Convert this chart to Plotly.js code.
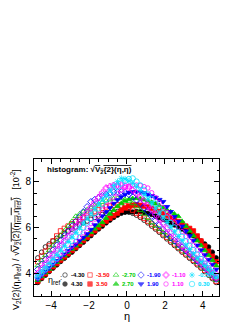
<!DOCTYPE html>
<html><head><meta charset="utf-8">
<script src="https://cdn.plot.ly/plotly-3.0.1.min.js"></script>
<style>html,body{margin:0;padding:0;background:#fff;}#c{width:249px;height:323px;}</style>
</head><body><div id="c"></div>
<script>
// eta bin centres
const eta = [-4.7,-4.5,-4.3,-4.1,-3.9,-3.7,-3.5,-3.3,-3.1,-2.9,-2.7,-2.5,-2.3,-2.1,-1.9,-1.7,-1.5,-1.3,-1.1,-0.9,-0.7,-0.5,-0.3,-0.1,
             0.1,0.3,0.5,0.7,0.9,1.1,1.3,1.5,1.7,1.9,2.1,2.3,2.5,2.7,2.9,3.1,3.3,3.5,3.7,3.9,4.1,4.3,4.5,4.7];
// series values (units of 10^-2), one per eta_ref
const yRefM430 = [4.67,4.92,5.15,5.28,5.41,5.53,5.64,5.74,5.84,5.93,6.02,6.11,6.20,6.28,6.36,6.44,6.50,6.57,6.62,6.66,6.69,6.70,6.68,6.69,6.67,6.62,6.54,6.44,6.32,6.20,6.06,5.93,5.79,5.64,5.50,5.35,5.21,5.07,4.92,4.79,4.65,4.51,4.36,4.22,4.07,3.91,3.76,3.59];
const yRefP430 = [3.59,3.76,3.91,4.07,4.22,4.36,4.51,4.65,4.79,4.92,5.07,5.21,5.35,5.50,5.64,5.79,5.93,6.06,6.20,6.32,6.44,6.54,6.62,6.67,6.69,6.68,6.70,6.69,6.66,6.62,6.57,6.50,6.44,6.36,6.28,6.20,6.11,6.02,5.93,5.84,5.74,5.64,5.53,5.41,5.28,5.15,4.92,4.67];
const yRefM350 = [4.50,4.74,4.96,5.19,5.41,5.63,5.85,5.96,6.06,6.16,6.26,6.35,6.44,6.53,6.62,6.70,6.77,6.84,6.90,6.94,6.97,6.99,6.98,6.94,6.86,6.76,6.63,6.52,6.41,6.28,6.15,6.00,5.86,5.72,5.57,5.43,5.28,5.13,4.99,4.85,4.71,4.57,4.42,4.28,4.12,3.97,3.81,3.64];
const yRefP350 = [3.64,3.81,3.97,4.12,4.28,4.42,4.57,4.71,4.85,4.99,5.13,5.28,5.43,5.57,5.72,5.86,6.00,6.15,6.28,6.41,6.52,6.63,6.76,6.86,6.94,6.98,6.99,6.97,6.94,6.90,6.84,6.77,6.70,6.62,6.53,6.44,6.35,6.26,6.16,6.06,5.96,5.85,5.63,5.41,5.19,4.96,4.74,4.50];
const yRefM270 = [4.33,4.56,4.78,4.99,5.21,5.42,5.64,5.85,6.06,6.27,6.49,6.59,6.69,6.78,6.87,6.96,7.04,7.11,7.17,7.22,7.26,7.28,7.27,7.23,7.16,7.05,6.92,6.76,6.59,6.41,6.22,6.08,5.94,5.79,5.65,5.50,5.35,5.20,5.06,4.92,4.77,4.63,4.48,4.33,4.18,4.02,3.86,3.69];
const yRefP270 = [3.69,3.86,4.02,4.18,4.33,4.48,4.63,4.77,4.92,5.06,5.20,5.35,5.50,5.65,5.79,5.94,6.08,6.22,6.41,6.59,6.76,6.92,7.05,7.16,7.23,7.27,7.28,7.26,7.22,7.17,7.11,7.04,6.96,6.87,6.78,6.69,6.59,6.49,6.27,6.06,5.85,5.64,5.42,5.21,4.99,4.78,4.56,4.33];
const yRefM190 = [4.16,4.38,4.59,4.80,5.01,5.22,5.43,5.63,5.84,6.05,6.26,6.47,6.69,6.91,7.13,7.22,7.31,7.39,7.45,7.51,7.55,7.57,7.56,7.53,7.45,7.34,7.21,7.05,6.87,6.69,6.50,6.30,6.11,5.91,5.72,5.56,5.42,5.27,5.13,4.98,4.83,4.69,4.54,4.39,4.23,4.07,3.91,3.74];
const yRefP190 = [3.74,3.91,4.07,4.23,4.39,4.54,4.69,4.83,4.98,5.13,5.27,5.42,5.56,5.72,5.91,6.11,6.30,6.50,6.69,6.87,7.05,7.21,7.34,7.45,7.53,7.56,7.57,7.55,7.51,7.45,7.39,7.31,7.22,7.13,6.91,6.69,6.47,6.26,6.05,5.84,5.63,5.43,5.22,5.01,4.80,4.59,4.38,4.16];
const yRefM110 = [3.99,4.20,4.41,4.61,4.82,5.02,5.22,5.41,5.61,5.82,6.02,6.23,6.44,6.66,6.87,7.09,7.31,7.52,7.73,7.79,7.84,7.86,7.86,7.82,7.75,7.64,7.50,7.33,7.15,6.96,6.77,6.57,6.37,6.17,5.97,5.77,5.57,5.38,5.19,5.04,4.90,4.75,4.60,4.45,4.29,4.13,3.96,3.79];
const yRefP110 = [3.79,3.96,4.13,4.29,4.45,4.60,4.75,4.90,5.04,5.19,5.38,5.57,5.77,5.97,6.17,6.37,6.57,6.77,6.96,7.15,7.33,7.50,7.64,7.75,7.82,7.86,7.86,7.84,7.79,7.73,7.52,7.31,7.09,6.87,6.66,6.44,6.23,6.02,5.82,5.61,5.41,5.22,5.02,4.82,4.61,4.41,4.20,3.99];
const yRefM030 = [3.88,4.05,4.22,4.42,4.62,4.81,5.01,5.20,5.39,5.59,5.79,5.99,6.20,6.41,6.62,6.83,7.04,7.25,7.45,7.65,7.84,8.01,8.15,8.12,8.04,7.93,7.79,7.62,7.44,7.24,7.04,6.84,6.63,6.42,6.22,6.01,5.81,5.61,5.42,5.23,5.04,4.85,4.66,4.50,4.34,4.18,4.02,3.84];
const yRefP030 = [3.84,4.02,4.18,4.34,4.50,4.66,4.85,5.04,5.23,5.42,5.61,5.81,6.01,6.22,6.42,6.63,6.84,7.04,7.24,7.44,7.62,7.79,7.93,8.04,8.12,8.15,8.01,7.84,7.65,7.45,7.25,7.04,6.83,6.62,6.41,6.20,5.99,5.79,5.59,5.39,5.20,5.01,4.81,4.62,4.42,4.22,4.05,3.88];

const refLabels = ["-4.30","4.30","-3.50","3.50","-2.70","2.70","-1.90","1.90","-1.10","1.10","-0.30","0.30"];
const seriesValues = [yRefM430,yRefP430,yRefM350,yRefP350,yRefM270,yRefP270,yRefM190,yRefP190,yRefM110,yRefP110,yRefM030,yRefP030];
const xTickVals = [-4,-2,0,2,4];
const yTickVals = [4,6,8];

// styles
const colors  = ["#000000","#000000","#ff0000","#ff0000","#00cc00","#00cc00","#0000ff","#0000ff","#ff00ff","#ff00ff","#00e0ff","#00e0ff"];
const symbols = ["circle-open","circle","square-open","square","triangle-up-open","triangle-up","diamond-open","triangle-down","cross-open","circle-open","asterisk-open","circle-open"];
const sizes   = [4.5,4.5,4.5,4.5,5,5,5,5,5,4.5,5,5.5];

const traces = seriesValues.map((ys,i)=>({
  x: eta, y: ys, type:'scatter', mode:'markers', name: refLabels[i], showlegend:false,
  marker:{symbol:symbols[i], size:sizes[i], color:colors[i], line:{color:colors[i], width:0.8}}
}));

// in-frame legend (layout positions in pixels, drawn on a hidden pixel-scaled overlay axis)
const colPx = [65,90,116,141,166,192];
const rowPx = [275,284];
const legX = [], legY = [];
for (let i=0;i<12;i++){ legX.push(colPx[Math.floor(i/2)]); legY.push(rowPx[i%2]); }
traces.push({x:legX, y:legY, xaxis:'x2', yaxis:'y2', type:'scatter', mode:'markers', showlegend:false, hoverinfo:'skip',
  marker:{symbol:symbols, size:sizes, color:colors, line:{color:colors, width:0.8}}});

const px2x = p => (p-34)/185;
const py2y = p => (296-p)/137;
const F = "Liberation Sans, Arial, sans-serif";
const ann = [];
for (let i=0;i<12;i++){
  ann.push({xref:'paper',yref:'paper',x:px2x(legX[i]+4),y:py2y(legY[i]),text:refLabels[i],showarrow:false,
    xanchor:'left',yanchor:'middle',font:{family:F,size:6,weight:'bold',color:colors[i]}});
}
ann.push({xref:'paper',yref:'paper',x:px2x(46),y:py2y(280),text:'η<sub>ref</sub>',showarrow:false,
  xanchor:'left',yanchor:'middle',font:{family:F,size:9,color:'#000'}});
ann.push({xref:'paper',yref:'paper',x:px2x(61),y:py2y(277),text:':',showarrow:false,
  xanchor:'center',yanchor:'middle',font:{family:F,size:8,color:'#000'}});
// inner label
ann.push({xref:'paper',yref:'paper',x:px2x(45),y:py2y(170),
  text:'histogram: √<span style="text-decoration:overline">V<sub>2</sub>{2}(η,η)</span>',showarrow:false,
  xanchor:'left',yanchor:'middle',font:{family:F,size:8,weight:'bold',color:'#000'}});
// axis titles
ann.push({xref:'paper',yref:'paper',x:px2x(127),y:py2y(316),text:'η',showarrow:false,
  xanchor:'center',yanchor:'middle',font:{family:F,size:11,color:'#000'}});
ann.push({xref:'paper',yref:'paper',x:px2x(15),y:py2y(240),textangle:-90,
  text:'V<sub>2</sub>{2}(η,η<sub>ref</sub>) / √<span style="text-decoration:overline">V<sub>2</sub>{2}(η<sub>ref</sub>,η<sub>ref</sub>)</span>   [10<sup>-2</sup>]',
  showarrow:false,xanchor:'center',yanchor:'middle',font:{family:F,size:9,color:'#000'}});

const axisCommon = {showline:true, linecolor:'#000', linewidth:1, mirror:'allticks', ticks:'inside',
  tickcolor:'#000', zeroline:false, showgrid:false, tickfont:{family:F,size:10,color:'#000'}};

const layout = {
  width:249, height:323, margin:{l:34,r:30,t:159,b:27}, paper_bgcolor:'#fff', plot_bgcolor:'#fff',
  showlegend:false,
  xaxis:Object.assign({}, axisCommon, {range:[-4.9,4.85], tickmode:'array', tickvals:xTickVals, ticklen:5,
    minor:{dtick:0.5, tick0:0, ticklen:2.5, ticks:'inside', tickcolor:'#000', showgrid:false}}),
  yaxis:Object.assign({}, axisCommon, {range:[3,9], tickmode:'array', tickvals:yTickVals, ticklen:5,
    minor:{dtick:0.5, tick0:0, ticklen:2.5, ticks:'inside', tickcolor:'#000', showgrid:false}}),
  xaxis2:{overlaying:'x', range:[34,219], visible:false, fixedrange:true},
  yaxis2:{overlaying:'y', range:[296,159], visible:false, fixedrange:true},
  annotations:ann
};
Plotly.newPlot('c', traces, layout, {staticPlot:true, displayModeBar:false});
</script></body></html>
